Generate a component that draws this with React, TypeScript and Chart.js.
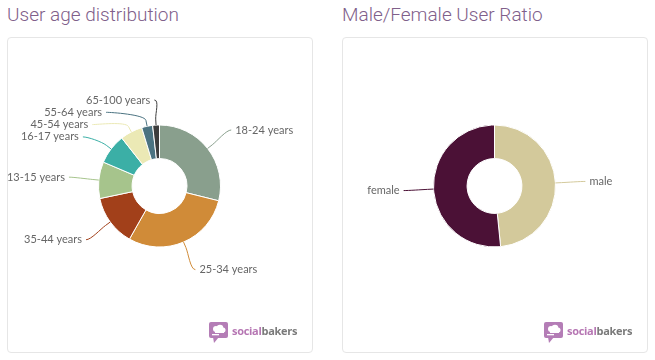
import React, { useEffect, useRef } from 'react';
import { Chart, registerables } from 'chart.js';

Chart.register(...registerables);

const ageCategories = ['18-24 years', '25-34 years', '35-44 years', '13-15 years', '16-17 years', '45-54 years', '55-64 years', '65-100 years'];
const ageValues = [28.9, 29.3, 13.5, 9.7, 8.0, 5.9, 2.9, 1.8];
const ageColors = ['#899f8d', '#d08b38', '#a2401a', '#a6c48c', '#3bafa6', '#ebe9b5', '#4b7381', '#3d3d3d'];

const genderCategories = ['male', 'female'];
const genderValues = [48.4, 51.6];
const genderColors = ['#d3c99b', '#4b1136'];

const LABEL_DISTANCE = 30;
const LABEL_PADDING = 4;
const LABEL_SPACING = 12.3;

const pieLabelsPlugin = {
  id: 'pieLabels',
  afterDatasetsDraw(chart: any) {
    const ctx = chart.ctx;
    const meta = chart.getDatasetMeta(0);
    const labels = chart.data.labels as string[];
    const colors = chart.data.datasets[0].backgroundColor as string[];
    const items: any[] = [];
    meta.data.forEach((arc: any, i: number) => {
      const p = arc.getProps(['x', 'y', 'startAngle', 'endAngle', 'outerRadius'], true);
      const mid = (p.startAngle + p.endAngle) / 2;
      const r = p.outerRadius;
      const R = r + LABEL_DISTANCE;
      const cos = Math.cos(mid);
      const sin = Math.sin(mid);
      items.push({
        i, cx: p.x, cy: p.y, r, R, cos, sin,
        left: cos < 0,
        nx: p.x + cos * R,
        ny: p.y + sin * R,
        y: 0, x: 0,
      });
    });
    [true, false].forEach((side) => {
      const group = items.filter((it) => it.left === side).sort((a, b) => a.ny - b.ny);
      let prev = -Infinity;
      group.forEach((it) => {
        const minY = it.cy - it.R + 5;
        it.y = Math.max(it.ny, prev + LABEL_SPACING, minY);
        prev = it.y;
      });
      let next = Infinity;
      for (let k = group.length - 1; k >= 0; k--) {
        const it = group[k];
        const maxY = it.cy + it.R - 5;
        it.y = Math.min(it.y, next - LABEL_SPACING, maxY);
        next = it.y;
      }
      group.forEach((it) => {
        const dy = it.y - it.cy;
        if (Math.abs(dy) > 0.93 * it.R) {
          it.x = it.nx;
        } else {
          const w = Math.sqrt(Math.max(it.R * it.R - dy * dy, 0));
          it.x = it.cx + (it.left ? -w : w);
        }
      });
    });

    ctx.save();
    items.forEach((it) => {
      const touchX = it.cx + it.cos * it.r;
      const touchY = it.cy + it.sin * it.r;
      const breakX = it.cx + it.cos * (it.r + 6);
      const breakY = it.cy + it.sin * (it.r + 6);
      ctx.beginPath();
      ctx.moveTo(it.x, it.y);
      ctx.bezierCurveTo(
        it.x + (it.left ? 5 : -5), it.y,
        2 * breakX - touchX, 2 * breakY - touchY,
        breakX, breakY
      );
      ctx.lineTo(touchX, touchY);
      ctx.strokeStyle = colors[it.i];
      ctx.lineWidth = 1;
      ctx.stroke();

      ctx.font = '11px Lato, "Open Sans", sans-serif';
      ctx.fillStyle = '#666666';
      ctx.textBaseline = 'middle';
      ctx.textAlign = it.left ? 'right' : 'left';
      ctx.fillText(labels[it.i], it.x + (it.left ? -LABEL_PADDING : LABEL_PADDING), it.y);
    });
    ctx.restore();
  },
};

function Donut({ categories, values, colors }: { categories: string[]; values: number[]; colors: string[] }) {
  const ref = useRef<HTMLCanvasElement>(null);
  useEffect(() => {
    if (!ref.current) return;
    const chart = new Chart(ref.current, {
      type: 'doughnut',
      data: {
        labels: categories,
        datasets: [
          {
            data: values,
            backgroundColor: colors,
            borderColor: '#ffffff',
            borderWidth: 1,
            hoverOffset: 0,
          },
        ],
      },
      options: {
        responsive: false,
        animation: false,
        radius: 61,
        cutout: '45%',
        layout: { padding: { left: 40, right: 41, top: 40, bottom: 58 } },
        plugins: {
          legend: { display: false },
          tooltip: { enabled: false },
        },
      } as any,
      plugins: [pieLabelsPlugin],
    });
    return () => chart.destroy();
  }, []);
  return <canvas ref={ref} width={304} height={314} style={{ position: 'absolute', left: 0, top: 0, width: 304, height: 314 }} />;
}

function Logo() {
  return (
    <div style={{ position: 'absolute', left: 201, top: 283, height: 24 }}>
      <svg width="22" height="24" viewBox="0 0 22 24" style={{ position: 'absolute', left: 0, top: 0 }}>
        <rect x="0" y="1" width="19" height="16" rx="2" fill="#b47db6" />
        <polygon points="4,16 10,16 5,22" fill="#b47db6" />
        <circle cx="7" cy="8" r="3" fill="#ffffff" />
        <circle cx="11" cy="7" r="3.3" fill="#ffffff" />
        <circle cx="14" cy="9" r="2.5" fill="#ffffff" />
        <rect x="6" y="9" width="9" height="3" fill="#ffffff" />
        <rect x="3" y="13" width="7" height="1.3" fill="#ffffff" />
      </svg>
      <span
        style={{
          position: 'absolute',
          left: 23,
          top: 2,
          lineHeight: '16px',
          fontFamily: '"Open Sans", sans-serif',
          fontWeight: 700,
          fontSize: 11,
          whiteSpace: 'nowrap',
          letterSpacing: '-0.3px',
        }}
      >
        <span style={{ color: '#b676b3' }}>social</span>
        <span style={{ color: '#7a7a7a' }}>bakers</span>
      </span>
    </div>
  );
}

function Panel({ left, title, children }: { left: number; title: string; children: React.ReactNode }) {
  return (
    <>
      <div
        style={{
          position: 'absolute',
          left: left,
          top: 0,
          lineHeight: '30px',
          fontSize: 19,
          fontFamily: 'Roboto, sans-serif',
          fontWeight: 300,
          color: '#80608a',
          whiteSpace: 'nowrap',
        }}
      >
        {title}
      </div>
      <div
        style={{
          position: 'absolute',
          left: left,
          top: 37,
          width: 304,
          height: 314,
          border: '1px solid #e6e6e6',
          borderRadius: 4,
          overflow: 'hidden',
          background: '#ffffff',
        }}
      >
        {children}
        <Logo />
      </div>
    </>
  );
}

export default function App() {
  return (
    <div style={{ position: 'fixed', left: 0, top: 0, width: 655, height: 360, background: '#ffffff', overflow: 'hidden' }}>
      <Panel left={7} title="User age distribution">
        <Donut categories={ageCategories} values={ageValues} colors={ageColors} />
      </Panel>
      <Panel left={342} title="Male/Female User Ratio">
        <Donut categories={genderCategories} values={genderValues} colors={genderColors} />
      </Panel>
    </div>
  );
}
